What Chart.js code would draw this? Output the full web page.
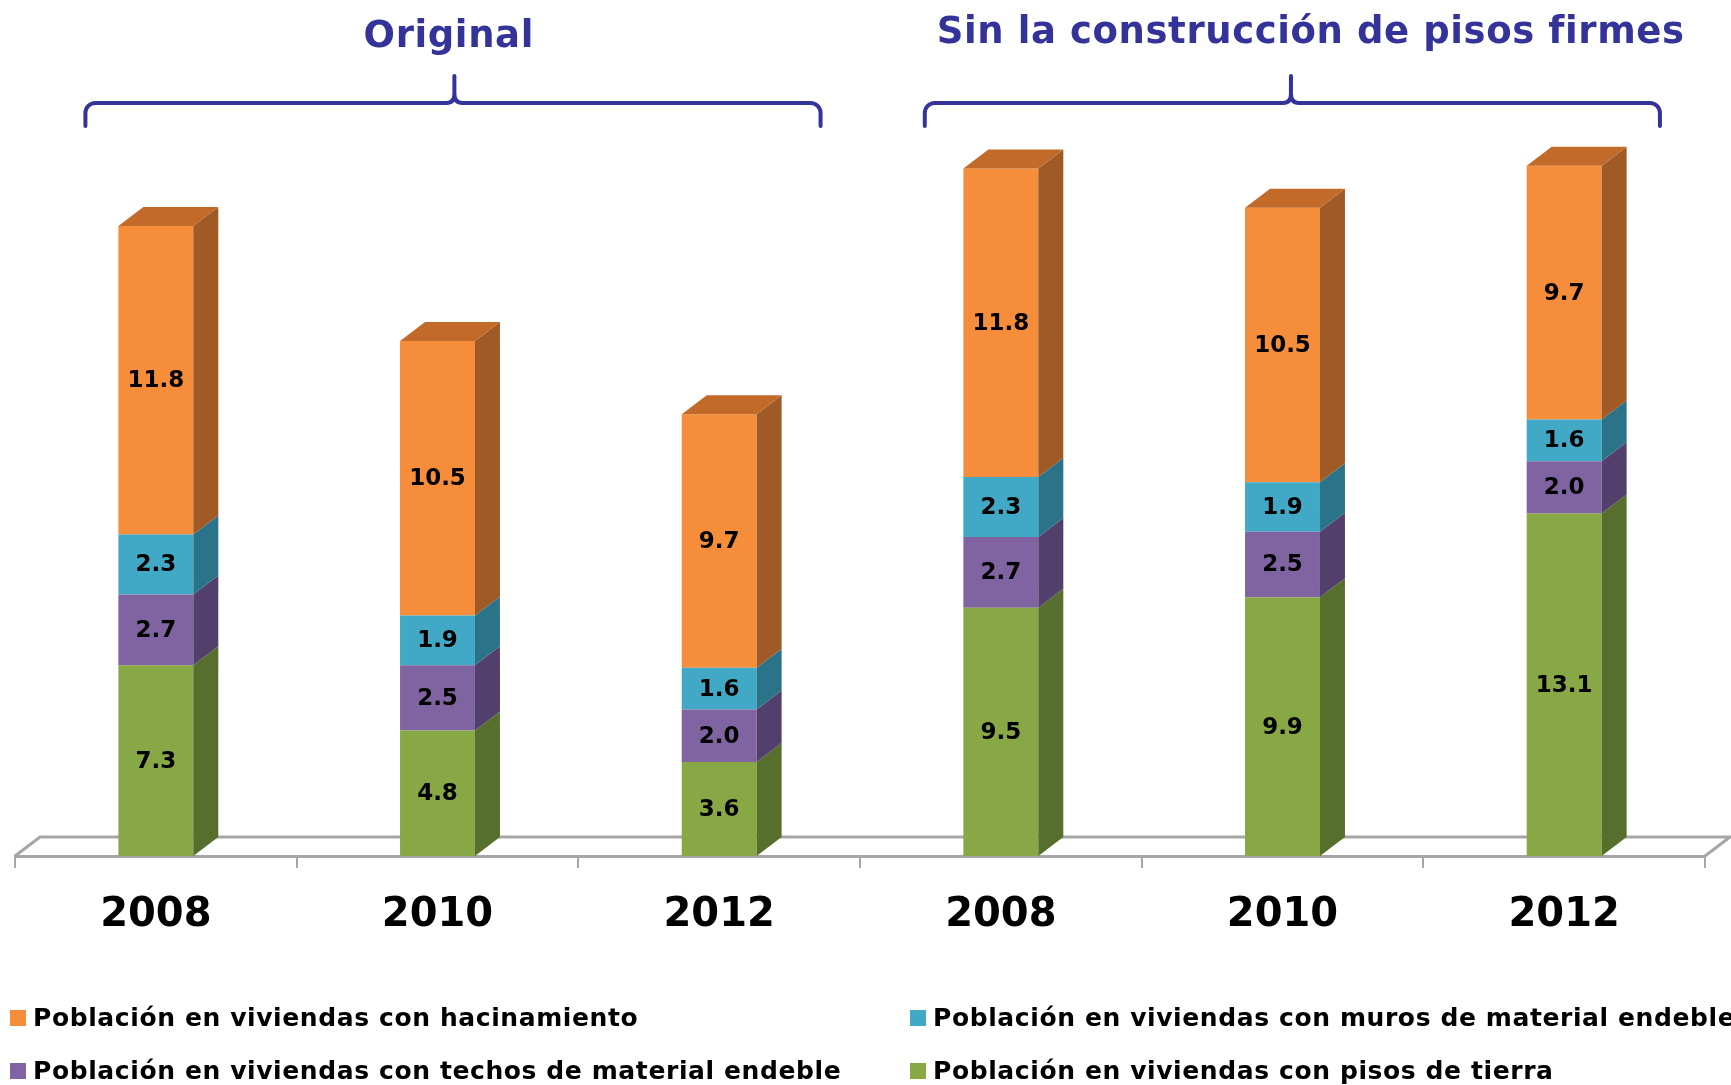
<!DOCTYPE html>
<html>
<head>
<meta charset="utf-8">
<script src="https://cdn.jsdelivr.net/npm/chart.js@4/dist/chart.umd.min.js"></script>
<style>
  html, body { margin: 0; padding: 0; background: #fff; }
  canvas { display: block; }
</style>
</head>
<body>
<canvas id="chart0" width="1731" height="1085"></canvas>
<script>
// {{{ data
let categories = ['2008', '2010', '2012', '2008', '2010', '2012'];
let pisosTierra = [7.3, 4.8, 3.6, 9.5, 9.9, 13.1];
let techos = [2.7, 2.5, 2.0, 2.7, 2.5, 2.0];
let muros = [2.3, 1.9, 1.6, 2.3, 1.9, 1.6];
let hacinamiento = [11.8, 10.5, 9.7, 11.8, 10.5, 9.7];
let seriesLabels =
[
  'Población en viviendas con pisos de tierra',
  'Población en viviendas con techos de material endeble',
  'Población en viviendas con muros de material endeble',
  'Población en viviendas con hacinamiento'
];
let groupTitles = ['Original', 'Sin la construcción de pisos firmes'];
let groupRanges = [[0, 2], [3, 5]];
// }}}
// {{{ styles
let fontFamily = '"DejaVu Sans", Verdana, sans-serif';
let front = ['#88A846', '#8064A2', '#41A8C5', '#F68D3A'];
let side = ['#566F2C', '#533F6B', '#2A7388', '#A05A26'];
let topFace = '#C26A2A';
let navy = '#333399';
let floorColor = '#A6A6A6';
let depthX = 25;
let depthY = -19;
// brace ends / tip / title in category steps, per group
let braceLeft = [-0.25, -0.27];
let braceRight = [0.36, 0.34];
let braceTip = [0.06, 0.03];
let titleShift = [0.04, 0.10];
let titleY = [37, 33];
// }}}
// {{{ plugins
let floorPlugin =
{
  id: 'floor',
  beforeDatasetsDraw(chart)
  {
    let ctx = chart.ctx;
    let a = chart.chartArea;
    ctx.save();
    ctx.strokeStyle = floorColor;
    ctx.lineWidth = 3;
    ctx.beginPath();
    ctx.moveTo(a.left, a.bottom);
    ctx.lineTo(a.left + depthX, a.bottom + depthY);
    ctx.lineTo(chart.width, a.bottom + depthY);
    ctx.moveTo(a.right, a.bottom);
    ctx.lineTo(a.right + depthX, a.bottom + depthY);
    ctx.stroke();
    ctx.restore();
  }
};
let boxPlugin =
{
  id: 'box3d',
  afterDatasetsDraw(chart)
  {
    let ctx = chart.ctx;
    let last = chart.data.datasets.length - 1;
    ctx.save();
    chart.data.datasets.forEach((ds, d) =>
    {
      let meta = chart.getDatasetMeta(d);
      meta.data.forEach((bar) =>
      {
        let p = bar.getProps(['x', 'y', 'base', 'width'], true);
        let l = p.x - p.width / 2;
        let r = p.x + p.width / 2;
        ctx.fillStyle = side[d];
        ctx.beginPath();
        ctx.moveTo(r, p.y);
        ctx.lineTo(r + depthX, p.y + depthY);
        ctx.lineTo(r + depthX, p.base + depthY);
        ctx.lineTo(r, p.base);
        ctx.closePath();
        ctx.fill();
        if (d == last)
        {
          ctx.fillStyle = topFace;
          ctx.beginPath();
          ctx.moveTo(l, p.y);
          ctx.lineTo(l + depthX, p.y + depthY);
          ctx.lineTo(r + depthX, p.y + depthY);
          ctx.lineTo(r, p.y);
          ctx.closePath();
          ctx.fill();
        }
      });
    });
    // value labels
    ctx.fillStyle = '#000';
    ctx.font = 'bold 23px ' + fontFamily;
    ctx.textAlign = 'center';
    ctx.textBaseline = 'middle';
    chart.data.datasets.forEach((ds, d) =>
    {
      chart.getDatasetMeta(d).data.forEach((bar, i) =>
      {
        let p = bar.getProps(['x', 'y', 'base'], true);
        ctx.fillText(ds.data[i].toFixed(1), p.x, (p.y + p.base) / 2 + 1);
      });
    });
    ctx.restore();
  }
};
let groupPlugin =
{
  id: 'groups',
  afterDraw(chart)
  {
    let ctx = chart.ctx;
    let xs = chart.scales.x;
    let step = xs.getPixelForValue(1) - xs.getPixelForValue(0);
    let yH = 103;
    let yEnd = 126;
    let yTip = 76;
    let rad = 10;
    ctx.save();
    groupRanges.forEach((g, k) =>
    {
      let x0 = xs.getPixelForValue(g[0]);
      let x1 = xs.getPixelForValue(g[1]);
      let L = x0 + braceLeft[k] * step;
      let R = x1 + braceRight[k] * step;
      let T = (x0 + x1) / 2 + braceTip[k] * step;
      ctx.strokeStyle = navy;
      ctx.lineWidth = 4;
      ctx.lineCap = 'round';
      ctx.beginPath();
      ctx.moveTo(L, yEnd);
      ctx.lineTo(L, yH + rad);
      ctx.arcTo(L, yH, L + rad, yH, rad);
      ctx.lineTo(T - 8, yH);
      ctx.quadraticCurveTo(T, yH, T, yH - 9);
      ctx.lineTo(T, yTip);
      ctx.moveTo(T, yH - 9);
      ctx.quadraticCurveTo(T, yH, T + 8, yH);
      ctx.lineTo(R - rad, yH);
      ctx.arcTo(R, yH, R, yH + rad, rad);
      ctx.lineTo(R, yEnd);
      ctx.stroke();
      ctx.fillStyle = navy;
      ctx.font = 'bold 37px ' + fontFamily;
      ctx.letterSpacing = '0.6px';
      ctx.textAlign = 'center';
      ctx.textBaseline = 'middle';
      ctx.fillText(groupTitles[k], (x0 + x1) / 2 + titleShift[k] * step, titleY[k]);
    });
    ctx.restore();
  }
};
let legendPlugin =
{
  id: 'legend2col',
  afterDraw(chart)
  {
    let ctx = chart.ctx;
    let order = [3, 2, 1, 0];
    let colX = [10, 910];
    let rowY = [1018, 1071];
    ctx.save();
    ctx.font = 'bold 25px ' + fontFamily;
    ctx.letterSpacing = '0.6px';
    ctx.textAlign = 'left';
    ctx.textBaseline = 'middle';
    order.forEach((d, n) =>
    {
      let x = colX[n % 2];
      let y = rowY[Math.floor(n / 2)];
      let ds = chart.data.datasets[d];
      ctx.fillStyle = ds.backgroundColor;
      ctx.fillRect(x, y - 8, 16, 16);
      ctx.fillStyle = '#000';
      ctx.fillText(ds.label, x + 23, y + 1);
    });
    ctx.restore();
  }
};
// }}}
let seriesData = [pisosTierra, techos, muros, hacinamiento];
let datasets = [];
for (let i = 0; i < seriesData.length; i++)
{
  datasets.push({label: seriesLabels[i], data: seriesData[i], backgroundColor: front[i], borderWidth: 0, barPercentage: 0.266, categoryPercentage: 1.0});
}
new Chart(document.getElementById('chart0'),
{
  type: 'bar',
  data: {labels: categories, datasets: datasets},
  plugins: [floorPlugin, boxPlugin, groupPlugin, legendPlugin],
  options:
  {
    responsive: false,
    animation: false,
    devicePixelRatio: 1,
    layout: {padding: {left: 15, right: 26, top: 124, bottom: 121}},
    plugins: {legend: {display: false}, tooltip: {enabled: false}},
    scales:
    {
      x:
      {
        stacked: true,
        grid: {display: true, drawOnChartArea: false, drawTicks: true, tickLength: 12, color: floorColor, lineWidth: 2, offset: true},
        border: {display: true, color: floorColor, width: 3},
        ticks: {color: '#000', padding: 24, font: {family: fontFamily, size: 40, weight: 'bold'}}
      },
      y:
      {
        stacked: true,
        display: false,
        min: 0,
        max: 28
      }
    }
  }
});
</script>
</body>
</html>
